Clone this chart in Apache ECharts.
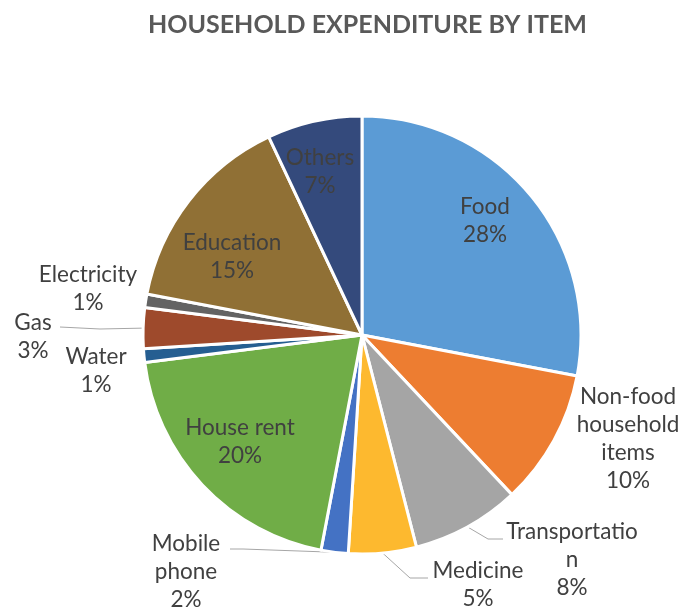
<!DOCTYPE html>
<html>
<head>
<meta charset="utf-8">
<script src="https://cdn.jsdelivr.net/npm/echarts@6/dist/echarts.min.js"></script>
<style>html,body{margin:0;padding:0;background:#fff}#c{width:685px;height:609px}</style>
</head>
<body>
<div id="c"></div>
<script>
const title = 'HOUSEHOLD EXPENDITURE BY ITEM';
const categories = ['Food','Non-food household items','Transportation','Medicine','Mobile phone','House rent','Water','Gas','Electricity','Education','Others'];
const labelTexts = ['Food','Non-food\nhousehold\nitems','Transportatio\nn','Medicine','Mobile\nphone','House rent','Water','Gas','Electricity','Education','Others'];
const values = [28,10,8,5,2,20,1,3,1,15,7];
const colors = ['#5B9BD5','#ED7D31','#A5A5A5','#FDB92F','#4472C4','#70AD47','#255E91','#9E4A2C','#636363','#907035','#344A7C'];

// label placement (style only)
const labelStyle = [
  {x:485,y:221},
  {x:628,y:439},
  {x:572,y:560, line:[[488,539],[503,539]]},
  {x:478,y:585, line:[[410,578],[428,578]]},
  {x:186,y:572, line:[[243,549],[230,549]]},
  {x:240,y:442},
  {x:96,y:371},
  {x:33,y:337, line:[[100,329],[60,327]]},
  {x:88,y:289},
  {x:232,y:257},
  {x:320,y:172}
];

const chart = echarts.init(document.getElementById('c'));
const FONT = 'Lato';
chart.setOption({
  animation:false,
  title:{text:title,left:143,top:7,textStyle:{fontFamily:FONT,fontWeight:'bold',fontSize:25,color:'#595959'}},
  series:[{
    type:'pie',
    center:[362,335],
    radius:[0,219],
    startAngle:90,
    clockwise:true,
    avoidLabelOverlap:false,
    itemStyle:{borderColor:'#fff',borderWidth:3},
    label:{show:true,position:'outside',fontFamily:FONT,fontSize:22.5,lineHeight:28,color:'#404040',align:'center',
      formatter:p=>labelTexts[p.dataIndex]+'\n'+p.value+'%'},
    labelLine:{show:true,lineStyle:{color:'#A6A6A6',width:1}},
    labelLayout:function(p){
      const s = labelStyle[p.dataIndex];
      const o = {x:s.x,y:s.y,align:'center',verticalAlign:'middle'};
      if(s.line && p.labelLinePoints){
        o.labelLinePoints=[p.labelLinePoints[0]].concat(s.line);
      }
      return o;
    },
    data:categories.map((c,i)=>({name:c,value:values[i],itemStyle:{color:colors[i]},
      labelLine:{show:!!labelStyle[i].line}}))
  }]
});
</script>
</body>
</html>
